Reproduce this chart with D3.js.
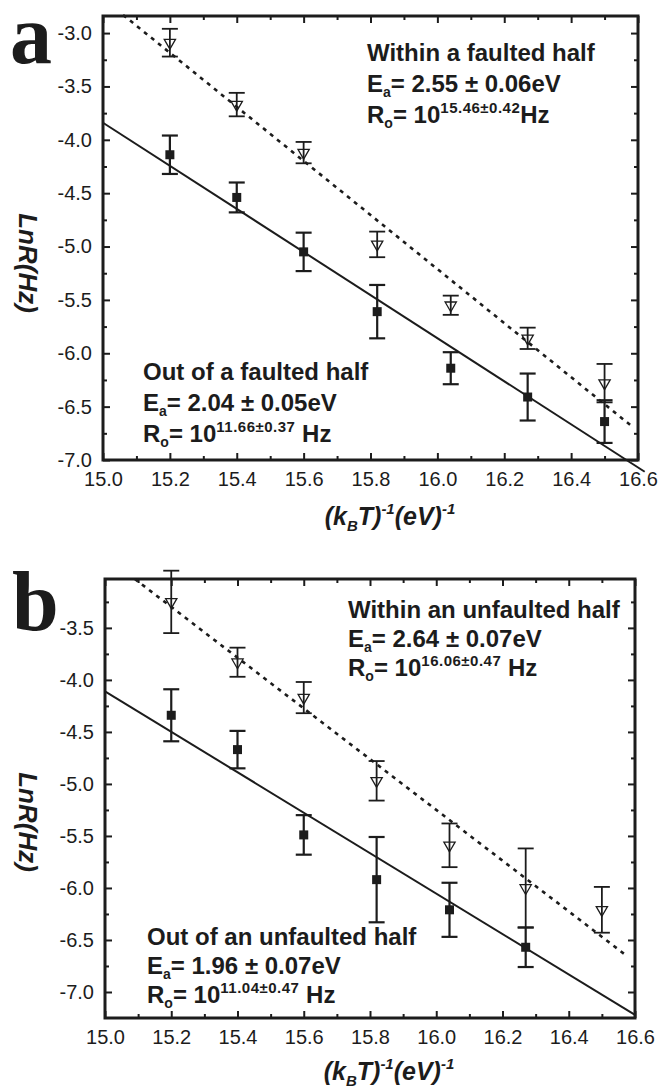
<!DOCTYPE html>
<html><head><meta charset="utf-8">
<script src="https://cdn.jsdelivr.net/npm/d3@7"></script>
<style>html,body{margin:0;padding:0;background:#fff;} svg{display:block;}</style>
</head><body><svg id="c" width="658" height="1088"></svg>
<script>
// ---------- data ----------
const xTickLabels = ["15.0","15.2","15.4","15.6","15.8","16.0","16.2","16.4","16.6"];
const yTickLabelsA = ["-3.0","-3.5","-4.0","-4.5","-5.0","-5.5","-6.0","-6.5","-7.0"];
const yTickLabelsB = ["-3.5","-4.0","-4.5","-5.0","-5.5","-6.0","-6.5","-7.0"];

// panel a
const xOutA = [15.2, 15.4, 15.6, 15.82, 16.04, 16.27, 16.5];
const outA = [-4.14, -4.54, -5.05, -5.61, -6.14, -6.41, -6.64];
const outErrA = [0.18, 0.14, 0.18, 0.25, 0.15, 0.22, 0.20];
const xWithinA = [15.2, 15.4, 15.6, 15.82, 16.04, 16.27, 16.5];
const withinA = [-3.09, -3.67, -4.12, -4.98, -5.55, -5.86, -6.28];
const withinErrA = [0.13, 0.11, 0.10, 0.12, 0.09, 0.10, 0.18];
const fitOutA = [[15.0, -3.84], [16.62, -7.11]];
const fitWithinA = [[15.06, -2.83], [16.58, -6.68]];

// panel b
const xOutB = [15.2, 15.4, 15.6, 15.82, 16.04, 16.27];
const outB = [-4.34, -4.67, -5.49, -5.92, -6.21, -6.57];
const outErrB = [0.25, 0.18, 0.19, 0.41, 0.26, 0.19];
const xWithinB = [15.2, 15.4, 15.6, 15.82, 16.04, 16.27, 16.5];
const withinB = [-3.25, -3.83, -4.17, -4.97, -5.59, -6.00, -6.21];
const withinErrB = [0.30, 0.14, 0.15, 0.19, 0.21, 0.38, 0.22];
const fitOutB = [[15.0, -4.11], [16.6, -7.22]];
const fitWithinB = [[15.09, -3.03], [16.57, -6.64]];

// annotation texts
const withinLabelA = ["Within a faulted half", "2.55", "0.06", "15.46", "0.42", ""];
const outLabelA = ["Out of a faulted half", "2.04", "0.05", "11.66", "0.37", " "];
const withinLabelB = ["Within an unfaulted half", "2.64", "0.07", "16.06", "0.47", " "];
const outLabelB = ["Out of an unfaulted half", "1.96", "0.07", "11.04", "0.47", " "];

// ---------- drawing ----------
const svg = d3.select("#c");
const FONT = "'Liberation Sans', Arial, Helvetica, sans-serif";
const INK = "#1c1c1c";

function drawPanel(p) {
  const g = svg.append("g");
  const x = d3.scaleLinear().domain([15.0, 16.6]).range([p.left, p.right]);
  const y = d3.scaleLinear().domain(p.yDomain).range([p.bottom, p.top]);

  const xMajor = xTickLabels.map(Number);
  const xMinor = d3.range(151, 166, 2).map(d => d / 10);
  const yMajor = p.yLabels.map(Number);
  const yMinor = d3.range(-325, -700, -50).map(d => d / 100);

  function styleAxis(sel) {
    sel.select(".domain").remove();
    sel.selectAll(".tick line").attr("stroke", INK).attr("stroke-width", 2);
    sel.selectAll(".tick text").attr("fill", INK).style("font-family", FONT).style("font-size", "20px");
  }
  // bottom
  g.append("g").attr("transform", `translate(0,${p.bottom})`)
    .call(d3.axisBottom(x).tickValues(xMajor).tickSize(-7).tickPadding(12)
      .tickFormat((d, i) => xTickLabels[i])).call(styleAxis);
  g.append("g").attr("transform", `translate(0,${p.bottom})`)
    .call(d3.axisBottom(x).tickValues(xMinor).tickSize(-4).tickFormat("")).call(styleAxis);
  // top
  g.append("g").attr("transform", `translate(0,${p.top})`)
    .call(d3.axisTop(x).tickValues(xMajor).tickSize(-7).tickFormat("")).call(styleAxis);
  g.append("g").attr("transform", `translate(0,${p.top})`)
    .call(d3.axisTop(x).tickValues(xMinor).tickSize(-4).tickFormat("")).call(styleAxis);
  // left
  g.append("g").attr("transform", `translate(${p.left},0)`)
    .call(d3.axisLeft(y).tickValues(yMajor).tickSize(-7).tickPadding(11)
      .tickFormat((d, i) => p.yLabels[i])).call(styleAxis);
  g.append("g").attr("transform", `translate(${p.left},0)`)
    .call(d3.axisLeft(y).tickValues(yMinor).tickSize(-4).tickFormat("")).call(styleAxis);
  // right
  g.append("g").attr("transform", `translate(${p.right},0)`)
    .call(d3.axisRight(y).tickValues(yMajor).tickSize(-7).tickFormat("")).call(styleAxis);
  g.append("g").attr("transform", `translate(${p.right},0)`)
    .call(d3.axisRight(y).tickValues(yMinor).tickSize(-4).tickFormat("")).call(styleAxis);

  // frame
  g.append("rect").attr("x", p.left).attr("y", p.top)
    .attr("width", p.right - p.left).attr("height", p.bottom - p.top)
    .attr("fill", "none").attr("stroke", INK).attr("stroke-width", 3);

  // fit lines
  const line = d3.line().x(d => x(d[0])).y(d => y(d[1]));
  g.append("path").attr("d", line(p.fitOut)).attr("fill", "none")
    .attr("stroke", INK).attr("stroke-width", 2);
  g.append("path").attr("d", line(p.fitWithin)).attr("fill", "none")
    .attr("stroke", INK).attr("stroke-width", 2.6).attr("stroke-dasharray", "4,5");

  // error bars
  function errBars(xs, vs, es, sw) {
    const eg = g.append("g").attr("stroke", INK).attr("stroke-width", sw);
    xs.forEach((xv, i) => {
      const cx = x(xv), t = y(vs[i] + es[i]), b = y(vs[i] - es[i]);
      eg.append("line").attr("x1", cx).attr("x2", cx).attr("y1", t).attr("y2", b);
      eg.append("line").attr("x1", cx - 8).attr("x2", cx + 8).attr("y1", t).attr("y2", t);
      eg.append("line").attr("x1", cx - 8).attr("x2", cx + 8).attr("y1", b).attr("y2", b);
    });
  }
  errBars(p.xWithin, p.within, p.withinErr, 1.8);
  errBars(p.xOut, p.out, p.outErr, 2.2);

  // open markers (within)
  const tri = d3.symbol().type(d3.symbolTriangle).size(55);
  g.append("g").selectAll("path").data(p.xWithin).join("path")
    .attr("d", tri)
    .attr("transform", (d, i) => `translate(${x(d)},${y(p.within[i])}) rotate(180)`)
    .attr("fill", "none").attr("stroke", INK).attr("stroke-width", 1.3);
  // filled squares (out)
  g.append("g").selectAll("rect").data(p.xOut).join("rect")
    .attr("x", d => x(d) - 4.5).attr("y", (d, i) => y(p.out[i]) - 4.5)
    .attr("width", 9).attr("height", 9).attr("fill", INK);

  // annotations
  function annot(lbl, ax, ay) {
    const mk = (yy) => g.append("text").attr("x", ax).attr("y", yy)
      .style("font-family", FONT).style("font-weight", "bold")
      .style("font-size", "24px").attr("fill", INK);
    mk(ay).text(lbl[0]);
    const t2 = mk(ay + p.lh);
    t2.append("tspan").text("E");
    t2.append("tspan").text("a").style("font-size", "14px").attr("dy", 5);
    t2.append("tspan").text("= " + lbl[1] + " \u00B1 " + lbl[2] + "eV").attr("dy", -5);
    const t3 = mk(ay + 2 * p.lh);
    t3.append("tspan").text("R");
    t3.append("tspan").text("o").style("font-size", "14px").attr("dy", 5);
    t3.append("tspan").text("= 10").attr("dy", -5);
    t3.append("tspan").text(lbl[3] + "\u00B1" + lbl[4]).style("font-size", "15px")
      .style("letter-spacing", "0.5px").attr("dy", -10);
    t3.append("tspan").text(lbl[5] + "Hz").attr("dy", 10);
  }
  annot(p.withinLabel, p.wx, p.wy);
  annot(p.outLabel, p.ox, p.oy);

  // axis titles
  const xt = g.append("text").attr("x", p.xtx).attr("y", p.xty).attr("text-anchor", "middle")
    .style("font-family", FONT).style("font-weight", "bold").style("font-style", "italic")
    .style("font-size", "25px").attr("fill", INK);
  xt.append("tspan").text("(k");
  xt.append("tspan").text("B").style("font-size", "15px").attr("dy", 6);
  xt.append("tspan").text("T)").attr("dy", -6);
  xt.append("tspan").text("-1").style("font-size", "15px").attr("dy", -11);
  xt.append("tspan").text("(eV)").attr("dy", 11);
  xt.append("tspan").text("-1").style("font-size", "15px").attr("dy", -11);

  g.append("text").attr("transform", `translate(${p.ytx},${p.yty}) rotate(90)`)
    .attr("text-anchor", "middle")
    .style("font-family", FONT).style("font-weight", "bold").style("font-style", "italic")
    .style("font-size", "26px").attr("fill", INK).text("LnR(Hz)");

  // panel letter
  g.append("text").attr("x", p.lx).attr("y", p.ly)
    .style("font-family", "'Liberation Serif', 'Times New Roman', serif")
    .style("font-weight", "bold").style("font-size", "84px").attr("fill", INK).text(p.letter);
}

drawPanel({
  left: 103, right: 638, top: 16, bottom: 460, yDomain: [-7.0, -2.84], yLabels: yTickLabelsA,
  xOut: xOutA, out: outA, outErr: outErrA, xWithin: xWithinA, within: withinA, withinErr: withinErrA,
  fitOut: fitOutA, fitWithin: fitWithinA,
  withinLabel: withinLabelA, wx: 367, wy: 61, outLabel: outLabelA, ox: 143, oy: 380, lh: 31,
  xtx: 390, xty: 525, ytx: 19, yty: 263, letter: "a", lx: 10, ly: 63
});
drawPanel({
  left: 105, right: 635, top: 579, bottom: 1018, yDomain: [-7.25, -3.03], yLabels: yTickLabelsB,
  xOut: xOutB, out: outB, outErr: outErrB, xWithin: xWithinB, within: withinB, withinErr: withinErrB,
  fitOut: fitOutB, fitWithin: fitWithinB,
  withinLabel: withinLabelB, wx: 348, wy: 618, outLabel: outLabelB, ox: 147, oy: 945, lh: 29,
  xtx: 389, xty: 1080, ytx: 19, yty: 822, letter: "b", lx: 12, ly: 630
});
</script></body></html>
